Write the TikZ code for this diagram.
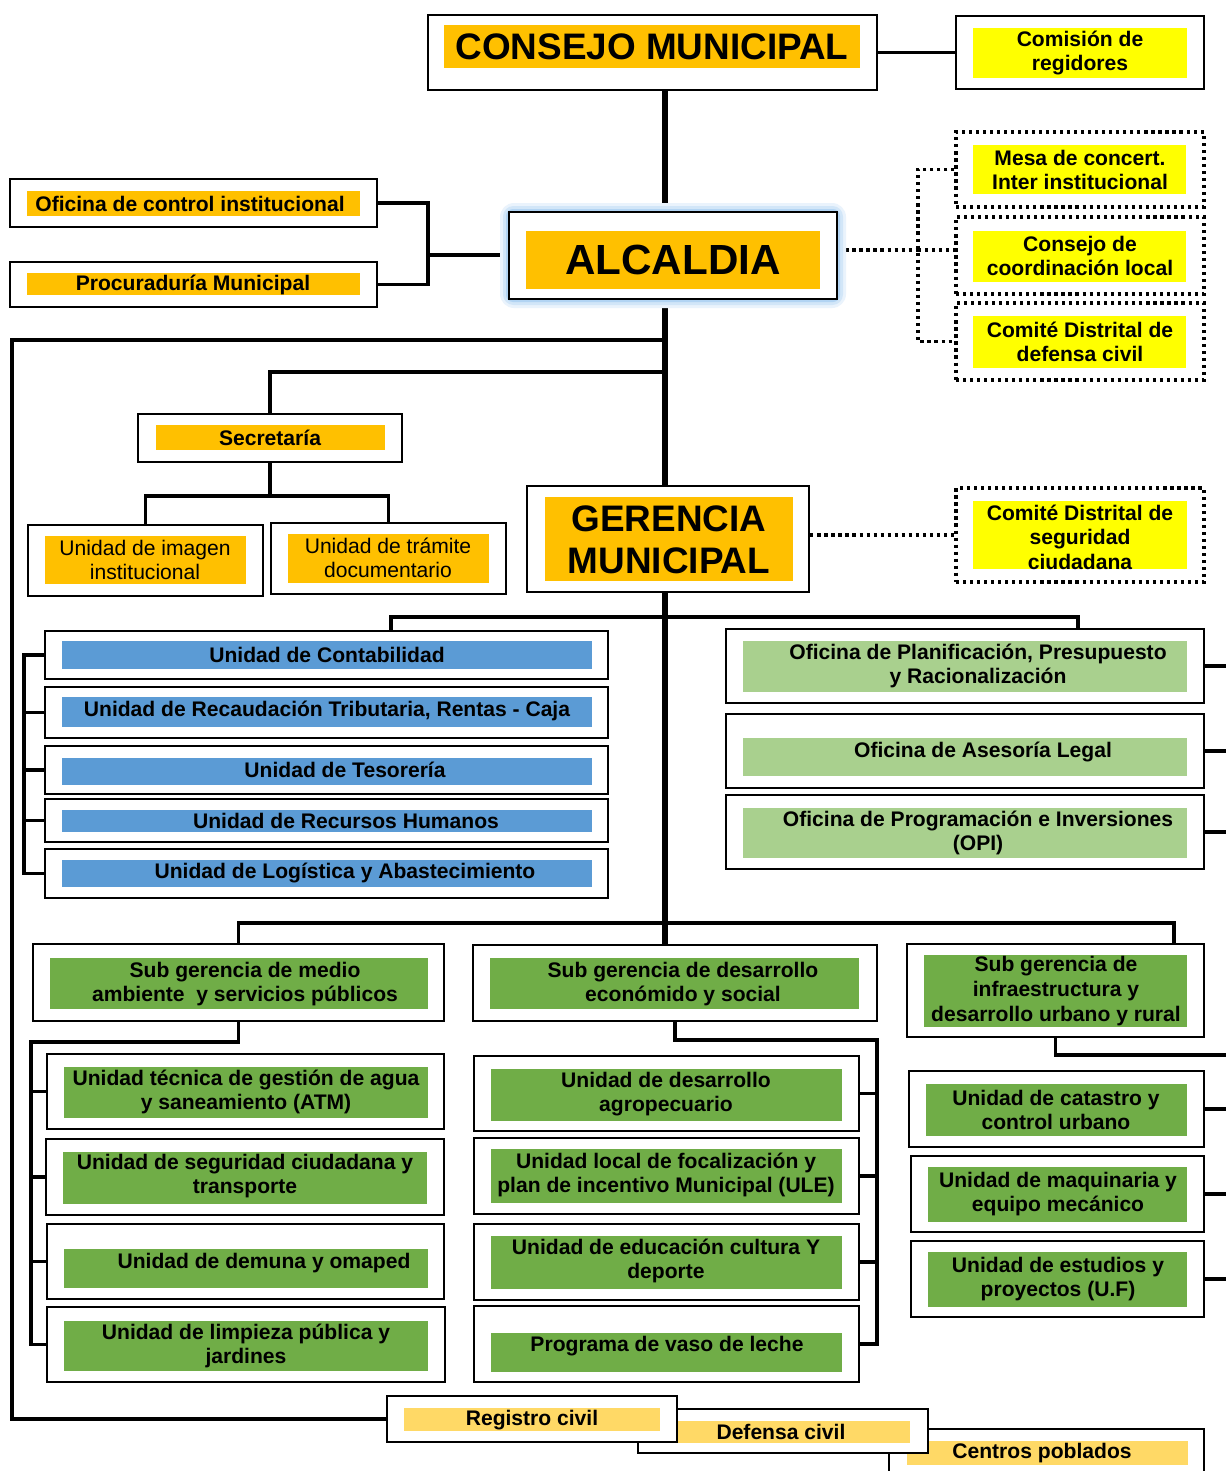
\documentclass[tikz,border=0pt]{standalone}
\usepackage{fontspec}
\setmainfont{Liberation Sans}
\usetikzlibrary{fit,calc}
\definecolor{cOrange}{HTML}{FFC000}
\definecolor{cYellow}{HTML}{FFFF00}
\definecolor{cBlue}{HTML}{5B9BD5}
\definecolor{cLGreen}{HTML}{A9D08E}
\definecolor{cGreen}{HTML}{70AD47}
\definecolor{cPale}{HTML}{FFD966}
\definecolor{glowA}{HTML}{EAF3FC}
\definecolor{glowB}{HTML}{D2E6F8}
\definecolor{glowC}{HTML}{B2D4F3}
\pgfdeclarelayer{bg}
\pgfsetlayers{bg,main}
\newcommand\orgbox[8]{%
  \node[#2, fit={#3}] (#1) {};
  \node[cbox=#4, fit={#5}] (#1-i) {};
  \node[lbl, #7] (#1-t) at #6 {#8};}
\begin{document}
\begin{tikzpicture}[x=0.02cm,y=-0.02cm,
  obox/.style={draw=black, line width=1.5pt, fill=white, inner sep=0pt},
  dbox/.style={draw=black, line width=1.8pt, dash pattern=on 1.8pt off 2.2pt, fill=white, inner sep=0pt},
  cbox/.style={fill=#1, draw=none, inner sep=0pt},
  lbl/.style={font=\bfseries\fontsize{12}{14}\selectfont, align=center, inner sep=0pt},
  conn/.style={line width=2.2pt},
  trunk/.style={line width=3.8pt},
  dotc/.style={line width=1.8pt, dash pattern=on 1.8pt off 2.2pt}]
\useasboundingbox (0,0) rectangle (1226,1471);
\clip (0,0) rectangle (1226,1471);

% ---- boxes ----
\orgbox{cm}{obox}{(428,15)(877,90)}{cOrange}{(444,25)(860,68)}{(652,47)}{font=\bfseries\fontsize{21}{24}\selectfont}{CONSEJO MUNICIPAL}
\orgbox{com}{obox}{(956,16)(1204,89)}{cYellow}{(973,28)(1187,78)}{(1080,53)}{}{Comisión de\\regidores}
\orgbox{mesa}{dbox}{(956,132)(1204,207)}{cYellow}{(973,145)(1186,194)}{(1080,170)}{}{Mesa de concert.\\Inter institucional}
\orgbox{cdl}{dbox}{(956,217)(1204,294)}{cYellow}{(973,231)(1186,282)}{(1080,256)}{}{Consejo de\\coordinación local}
\orgbox{cdc}{dbox}{(956,303)(1204,380)}{cYellow}{(973,316)(1186,368)}{(1080,342)}{}{Comité Distrital de\\defensa civil}
\orgbox{oci}{obox}{(10,179)(377,227)}{cOrange}{(27,191)(360,216)}{(190,204)}{}{Oficina de control institucional}
\orgbox{proc}{obox}{(10,262)(377,307)}{cOrange}{(27,273)(360,295)}{(193,285)}{}{Procuraduría Municipal}
\orgbox{sec}{obox}{(138,414)(402,462)}{cOrange}{(156,425)(385,450)}{(270,438)}{}{Secretaría}
\orgbox{img}{obox}{(28,525)(263,596)}{cOrange}{(45,536)(246,584)}{(145,560)}{font=\fontsize{12}{14}\selectfont}{Unidad de imagen\\institucional}
\orgbox{tram}{obox}{(271,523)(506,594)}{cOrange}{(288,534)(489,583)}{(388,558)}{font=\fontsize{12}{14}\selectfont}{Unidad de trámite\\documentario}
\orgbox{ger}{obox}{(527,486)(809,592)}{cOrange}{(545,497)(793,581)}{(669,540)}{font=\bfseries\fontsize{21}{24}\selectfont}{GERENCIA\\MUNICIPAL}
\orgbox{seg}{dbox}{(956,488)(1204,582)}{cYellow}{(973,501)(1187,569)}{(1080,537)}{}{Comité Distrital de\\seguridad\\ciudadana}

\orgbox{cont}{obox}{(45,631)(608,679)}{cBlue}{(62,641)(592,669)}{(327,655)}{}{Unidad de Contabilidad}
\orgbox{rec}{obox}{(45,687)(608,738)}{cBlue}{(62,697)(592,727)}{(327,711)}{}{Unidad de Recaudación Tributaria, Rentas - Caja}
\orgbox{tes}{obox}{(45,746)(608,794)}{cBlue}{(62,758)(592,785)}{(345,770)}{}{Unidad de Tesorería}
\orgbox{rrhh}{obox}{(45,799)(608,842)}{cBlue}{(62,810)(592,832)}{(346,821)}{}{Unidad de Recursos Humanos}
\orgbox{logi}{obox}{(45,849)(608,898)}{cBlue}{(62,860)(592,887)}{(345,873)}{}{Unidad de Logística y Abastecimiento}

\orgbox{plan}{obox}{(726,629)(1204,703)}{cLGreen}{(743,641)(1187,692)}{(978,666)}{}{Oficina de Planificación, Presupuesto\\y Racionalización}
\orgbox{ases}{obox}{(726,714)(1204,788)}{cLGreen}{(743,738)(1187,776)}{(983,752)}{}{Oficina de Asesoría Legal}
\orgbox{prog}{obox}{(726,795)(1204,869)}{cLGreen}{(743,808)(1187,858)}{(978,833)}{}{Oficina de Programación e Inversiones\\(OPI)}

\orgbox{sgm}{obox}{(33,944)(444,1021)}{cGreen}{(50,958)(428,1009)}{(245,984)}{}{Sub gerencia de medio\\ambiente\ \ y servicios públicos}
\orgbox{sgd}{obox}{(473,945)(877,1021)}{cGreen}{(490,958)(859,1009)}{(683,984)}{}{Sub gerencia de desarrollo\\económido y social}
\orgbox{sgi}{obox}{(907,944)(1204,1037)}{cGreen}{(924,955)(1187,1027)}{(1056,991)}{}{Sub gerencia de\\infraestructura y\\desarrollo urbano y rural}
\orgbox{atm}{obox}{(47,1054)(444,1129)}{cGreen}{(64,1067)(428,1118)}{(246,1092)}{}{Unidad técnica de gestión de agua\\y saneamiento (ATM)}
\orgbox{segt}{obox}{(46,1139)(444,1215)}{cGreen}{(63,1152)(427,1204)}{(245,1176)}{}{Unidad de seguridad ciudadana y\\transporte}
\orgbox{dem}{obox}{(47,1224)(444,1299)}{cGreen}{(64,1249)(428,1288)}{(264,1263)}{}{Unidad de demuna y omaped}
\orgbox{lim}{obox}{(47,1307)(445,1382)}{cGreen}{(64,1321)(428,1371)}{(246,1346)}{}{Unidad de limpieza pública y\\jardines}
\orgbox{agro}{obox}{(474,1056)(859,1131)}{cGreen}{(491,1069)(842,1121)}{(666,1094)}{}{Unidad de desarrollo\\agropecuario}
\orgbox{ule}{obox}{(474,1138)(859,1214)}{cGreen}{(491,1149)(842,1203)}{(666,1175)}{}{Unidad local de focalización y\\plan de incentivo Municipal (ULE)}
\orgbox{edu}{obox}{(474,1224)(859,1300)}{cGreen}{(491,1236)(842,1289)}{(666,1261)}{}{Unidad de educación cultura Y\\deporte}
\orgbox{vaso}{obox}{(474,1306)(859,1382)}{cGreen}{(491,1333)(842,1372)}{(667,1346)}{}{Programa de vaso de leche}
\orgbox{cat}{obox}{(909,1071)(1204,1147)}{cGreen}{(926,1084)(1187,1136)}{(1056,1110)}{}{Unidad de catastro y\\control urbano}
\orgbox{maq}{obox}{(911,1156)(1204,1232)}{cGreen}{(928,1167)(1187,1222)}{(1058,1194)}{}{Unidad de maquinaria y\\equipo mecánico}
\orgbox{est}{obox}{(911,1241)(1204,1317)}{cGreen}{(928,1252)(1187,1307)}{(1058,1279)}{}{Unidad de estudios y\\proyectos (U.F)}

\orgbox{cen}{obox}{(889,1429)(1204,1490)}{cPale}{(907,1441)(1188,1465)}{(1042,1453)}{}{Centros poblados}
\orgbox{def}{obox}{(638,1409)(928,1453)}{cPale}{(654,1421)(910,1443)}{(781,1432)}{}{Defensa civil}
\orgbox{reg}{obox}{(387,1396)(677,1442)}{cPale}{(404,1408)(660,1431)}{(532,1420)}{}{Registro civil}

\orgbox{alc}{obox}{(509,212)(837,299)}{cOrange}{(526,231)(820,289)}{(673,260)}{font=\bfseries\fontsize{24}{28}\selectfont}{ALCALDIA}

% ---- connectors ----
\begin{pgfonlayer}{bg}
\fill[white] (0,0) rectangle (1226,1471);
\coordinate (tr) at (665,0);
\draw[trunk] (cm.south -| tr) -- (alc.north -| tr);
\draw[trunk] (alc.south -| tr) -- (ger.north -| tr);
\draw[trunk] (ger.south -| tr) -- (sgd.north -| tr);
\draw[conn] (cm.east) -- (com.west);
\coordinate (bk) at (428,255);
\draw[conn] (oci.east) -| (bk) |- (proc.east);
\draw[conn] (bk) -- (bk -| alc.west);
\coordinate (dj) at (918,250);
\draw[dotc] (dj -| alc.east) -- (dj);
\draw[dotc] (mesa.west) -| (dj) |- (cdc.west);
\draw[dotc] (dj) -- (dj -| cdl.west);
\draw[conn] (tr |- 0,340) -- (12,340) |- (reg.west);
\draw[conn] (tr |- 0,372) -| (sec.north);
\draw[conn] (sec.south) -- ++(0,33) coordinate (sj) -| (img.north);
\draw[conn] (sj) -| (tram.north);
\draw[dotc] (ger.east |- seg.west) -- (seg.west);
\coordinate (g1) at (391,617);
\coordinate (g2) at (1078,617);
\draw[conn] (g1 |- cont.north) -- (g1) -- (g2) -- (g2 |- plan.north);
\draw[conn] (cont.west) -- ++(-20,0) |- (logi.west);
\foreach \n in {rec,tes,rrhh} \draw[conn] (\n.west) -- ++(-20,0);
\foreach \n in {plan,ases,prog} \draw[conn] (\n.east) -- ++(30,0);
\coordinate (r2) at (1174,923);
\draw[conn] (sgm.north) |- (r2) -- (r2 |- sgi.north);
\coordinate (m1) at (31,1042);
\draw[conn] (sgm.south) |- (m1) |- (lim.west);
\foreach \n in {atm,segt,dem} \draw[conn] (\n.west) -- (\n.west -| m1);
\coordinate (d1) at (877,1040);
\draw[conn] (sgd.south) |- (d1) |- (vaso.east);
\foreach \n in {agro,ule,edu} \draw[conn] (\n.east) -- (\n.east -| d1);
\draw[conn] (sgi.south) -- ++(0,17) -- ++(200,0);
\foreach \n in {cat,maq,est} \draw[conn] (\n.east) -- ++(30,0);
\fill[glowA, rounded corners=8] (500,203) rectangle (846,308);
\fill[glowB, rounded corners=6] (503,206) rectangle (843,305);
\fill[glowC, rounded corners=4] (506,209) rectangle (840,302);
\end{pgfonlayer}
\end{tikzpicture}
\end{document}
